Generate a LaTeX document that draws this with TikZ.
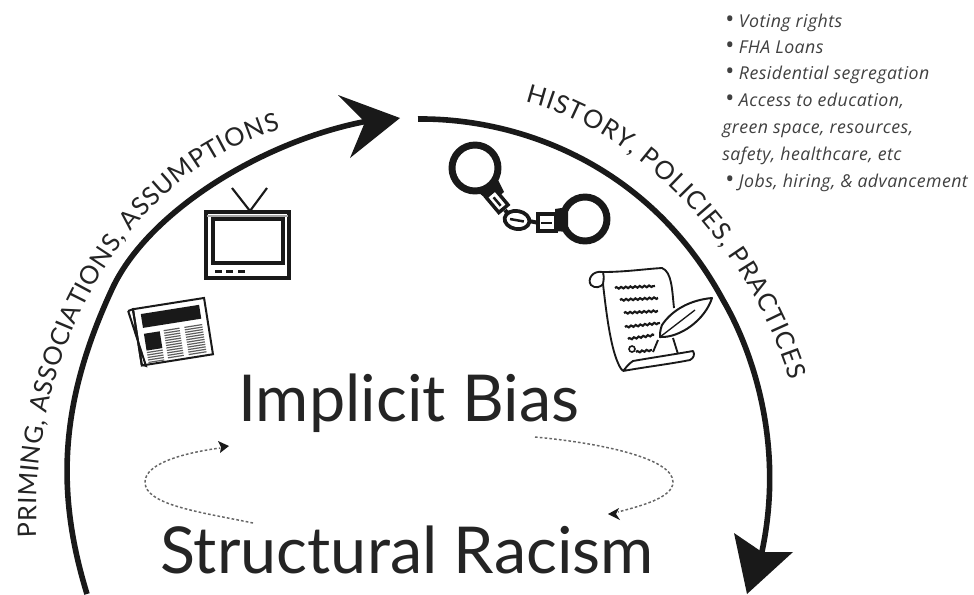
\documentclass[tikz,border=0pt]{standalone}
\usepackage{fontspec}
\setmainfont{Lato}
\usetikzlibrary{decorations.text,decorations.pathmorphing,arrows.meta}
\definecolor{ink}{gray}{0.1}
\definecolor{txt}{gray}{0.14}
\newfontfamily\arcfont{Lato}
\newfontfamily\listfont[LetterSpace=2.5]{Open Sans}
\newcommand{\lbul}{{\fontsize{18}{14}\selectfont\upshape•}\hspace{3.5pt}}
\tikzset{
 mainarc/.style={draw=ink,line width=4.2pt,line cap=butt},
 headfill/.style={fill=ink,draw=none},
 title/.style={inner sep=0,anchor=base west,text=txt,font=\fontsize{48.5}{50}\selectfont},
 listitem/.style={inner sep=0,anchor=base west,text=black!75,font=\listfont\fontsize{13.3}{14}\selectfont\itshape},
 loopline/.style={draw=gray!80!black,line width=1.1pt,dash pattern=on 2pt off 1.6pt},
 icon/.style={draw=ink,line width=1.5pt,fill=none},
 scribble/.style={draw=ink,line width=1.6pt,decorate,decoration={snake,amplitude=.6pt,segment length=3.5pt}}
}
\begin{document}
\begin{tikzpicture}[x=0.75pt,y=-0.75pt]
\useasboundingbox[fill=white] (0,0) rectangle (974,594);
% main arcs
\draw[mainarc] (87,594) .. controls (55,490) and (60,400) .. (113,287) .. controls (150,210) and (265,140) .. (368,121);
\fill[headfill] (400,118) -- (338,95) -- (365,122) -- (350,158) -- cycle;
\draw[mainarc] (418,119) .. controls (520,118) and (650,165) .. (723,300) .. controls (755,355) and (785,450) .. (761,556);
\fill[headfill] (747,594) -- (734,533) -- (762,552) -- (793,552) -- cycle;
% curved texts
\path[postaction={decorate,decoration={text along path,text align=fit to path,text={|\arcfont\fontsize{19}{21}\selectfont\color{txt}|PRIMING, ASSOCIATIONS, ASSUMPTIONS}}}]
 (37,537) .. controls (28,360) and (120,175) .. (280,130);
\path[postaction={decorate,decoration={text along path,text align=fit to path,text={|\arcfont\fontsize{19}{21}\selectfont\color{txt}|HISTORY, POLICIES, PRACTICES}}}]
 (525,102) .. controls (640,130) and (750,250) .. (790,380);
% titles
\node[title] (implicit) at (238,421) {Implicit Bias};
\node[title] (structural) at (160,573) {Structural Racism};
% dotted loops
\draw[loopline] (253,523) .. controls (200,512) and (145,505) .. (145,482) .. controls (145,462) and (190,452) .. (220,448);
\fill[headfill] (229,446) -- (218,441) -- (221,447) -- (220,453) -- cycle;
\draw[loopline] (535,437) .. controls (600,443) and (673,458) .. (673,482) .. controls (673,498) and (640,506) .. (618,512);
\fill[headfill] (608,514) -- (619,508) -- (616,514) -- (620,520) -- cycle;
% list
\node[listitem] (l1) at (725,27) {\lbul Voting rights};
\node[listitem] (l2) at (725,53) {\lbul FHA Loans};
\node[listitem] (l3) at (725,79) {\lbul Residential segregation};
\node[listitem] (l4) at (725,106) {\lbul Access to education,};
\node[listitem] (l5) at (722,133) {green space, resources,};
\node[listitem] (l6) at (722,160) {safety, healthcare, etc};
\node[listitem] (l7) at (725,187) {\lbul Jobs, hiring, \& advancement};
% TV
\draw[draw=ink,line width=1.6pt] (232,188) -- (250,211) -- (267,188);
\draw[draw=ink,line width=2.4pt] (206,212) rectangle (289,278);
\draw[draw=ink,line width=2.4pt] (213,219) rectangle (283,263);
\draw[draw=gray!70,line width=1.4pt] (207,216) -- (288,216);
\foreach \bx in {215,226,238} \fill[ink] (\bx,269.5) rectangle ++(7,3.5);
% newspaper
\begin{scope}[shift={(128,310)},rotate=9]
 \draw[icon] (0,1) -- (5,0) -- (5,56) -- (9,58) -- (0,1);
 \draw[icon] (5,0) rectangle (77,57);
 \fill[ink] (12,6) rectangle (71,20);
 \fill[ink] (12,26) rectangle (28,43);
 \foreach \hy in {45,47.5,...,55} \draw[ink!70,line width=.9pt] (12,\hy) -- (28,\hy);
 \foreach \hy in {26,28.5,...,55} {
  \draw[ink!70,line width=.9pt] (32,\hy) -- (48,\hy);
  \draw[ink!70,line width=.9pt] (53,\hy) -- (71,\hy);
 }
\end{scope}
% handcuffs
\draw[ink,line width=5.2pt] (475,168) circle (23);
\draw[ink,line width=5.2pt] (585,219) circle (22);
\fill[ink] (478,192) -- (497,178) -- (504,192) -- (491,203) -- cycle;
\fill[ink] (555,209) -- (568,207) -- (568,232) -- (555,231) -- cycle;
\draw[ink,line width=2.6pt,fill=white,rotate around={-50:(497,201)}] (487,195) rectangle (507,207);
\fill[ink,rotate around={-50:(497,201)}] (492,200) rectangle (503,202.5);
\draw[ink,line width=3pt] (505,210) -- (510,216);
\draw[ink,line width=2.8pt,fill=white,rotate around={-10:(517,220)}] (517,220) ellipse (12.5 and 9);
\fill[ink,rotate around={-10:(517,220)}] (510,219) rectangle (524,221.5);
\draw[ink,line width=3pt] (529,221) -- (539,223);
\draw[ink,line width=2.6pt,fill=white] (538,214) rectangle (556,231);
\fill[ink] (541,221.5) rectangle (552,224);
% scroll
\draw[ink,line width=1.4pt,line join=round] (603,272) .. controls (625,272) and (645,269) .. (662,268) .. controls (672,272) and (672,290) .. (674,308);
\draw[ink,line width=1.4pt] (603,272) .. controls (592,270) and (587,280) .. (591,285) .. controls (595,289) and (601,287) .. (603,284) .. controls (604,278) and (604,275) .. (603,272);
\draw[ink,line width=1.4pt] (603,284) .. controls (606,310) and (610,345) .. (618,363) .. controls (620,368) and (622,370) .. (623,371);
\draw[ink,line width=1.4pt,line join=round] (623,371) .. controls (645,367) and (670,364) .. (690,360) .. controls (694,358) and (695,354) .. (693,351) .. controls (670,355) and (650,358) .. (633,361) .. controls (628,364) and (626,368) .. (623,371);
\foreach \ax/\ay/\bx/\by in {615/288/655/286, 620/300/658/298, 624/313/658/311, 625/327/660/323, 628/339/654/335} \draw[scribble] (\ax,\ay) -- (\bx,\by);
\draw[scribble] (636,352) -- (652,350);
\draw[ink,line width=1.2pt] (632,349) circle (3);
% feather
\draw[ink,line width=1.5pt,fill=white,line join=round] (712,298) .. controls (690,300) and (672,310) .. (662,325) .. controls (660,330) and (660,334) .. (660,337) .. controls (680,338) and (705,320) .. (712,298) -- cycle;
\draw[ink,line width=1pt] (660,337) -- (695,310);
\draw[ink,line width=1.4pt] (658,340) -- (653,352);
\draw[ink,line width=1.4pt] (673,338) -- (678,354);
\end{tikzpicture}
\end{document}
